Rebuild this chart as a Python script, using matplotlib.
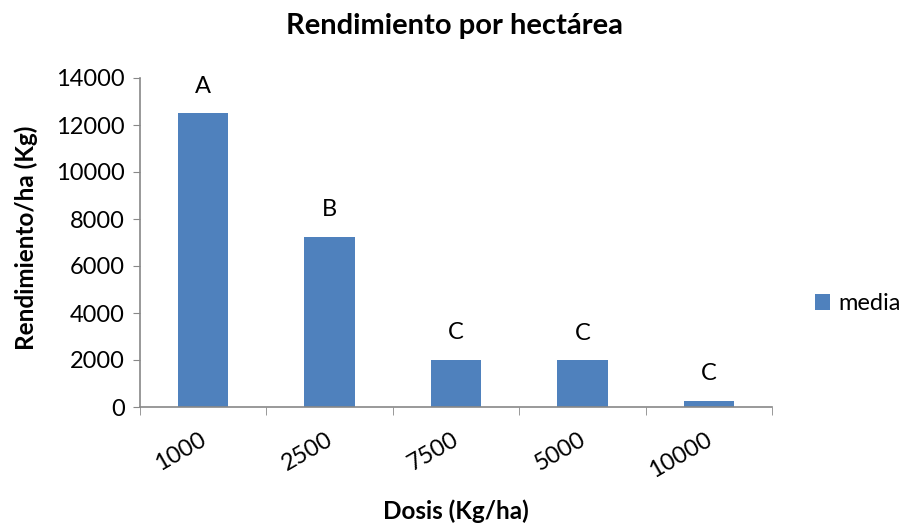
import numpy as np
import matplotlib.pyplot as plt
import matplotlib.transforms as mtransforms

dosis = ["1000", "2500", "7500", "5000", "10000"]
media = [12500, 7250, 2020, 1990, 260]
letras = ["A", "B", "C", "C", "C"]

plt.rcParams['font.family'] = ['Lato', 'DejaVu Sans']

fig = plt.figure(figsize=(9.07, 5.25), dpi=100)
ax = fig.add_axes([140/907, 1-407/525, 632/907, 329/525])

x = np.arange(len(dosis))
bars = ax.bar(x, media, width=0.4, color='#4F81BD', label='media', zorder=2)
for xi, v, l in zip(x, media, letras):
    ax.annotate(l, (xi, v), xytext=(0, 27), textcoords='offset pixels',
                ha='center', va='center', fontsize=17)

ax.set_xlim(-0.5, len(dosis) - 0.5)
ax.set_ylim(0, 14000)
ax.set_yticks(np.arange(0, 14001, 2000))
ax.tick_params(axis='y', labelsize=17, length=5, color='#888888', direction='out', pad=6)
ax.set_xticks(x)
ax.set_xticklabels(dosis, rotation=30, ha='right', rotation_mode='anchor', fontsize=17)
ax.tick_params(axis='x', length=0, pad=16)
ax.set_xticks(np.arange(-0.5, len(dosis)), minor=True)
ax.tick_params(axis='x', which='minor', length=6, color='#888888', direction='out')
# nudge the rotated labels a little to the left
shift = mtransforms.ScaledTranslation(-4/100, 0, fig.dpi_scale_trans)
for lab in ax.get_xticklabels():
    lab.set_transform(lab.get_transform() + shift)

for s in ['top', 'right']:
    ax.spines[s].set_visible(False)
for s in ['left', 'bottom']:
    ax.spines[s].set_color('#888888')
    ax.spines[s].set_linewidth(1.2)

fig.text(455/907, 1-26/525, "Rendimiento por hectárea", ha='center', va='center',
         fontsize=21, fontweight='bold')
fig.text(26/907, 1-238/525, "Rendimiento/ha (Kg)", ha='center', va='center',
         rotation=90, fontsize=17.5, fontweight='bold')
fig.text(456/907, 1-511/525, "Dosis (Kg/ha)", ha='center', va='center',
         fontsize=17.5, fontweight='bold')

fig.legend(handles=[bars], labels=['media'], loc='center left',
           bbox_to_anchor=(815/907, 1-304/525), frameon=False, fontsize=17,
           borderaxespad=0, borderpad=0,
           handlelength=0.65, handleheight=0.65, handletextpad=0.35)

fig.savefig("out.png", dpi=100)
